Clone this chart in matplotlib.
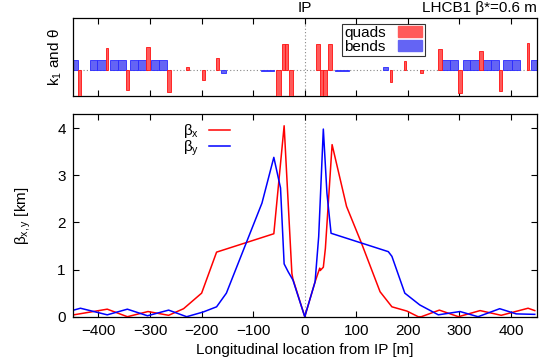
import matplotlib
matplotlib.use("Agg")
import matplotlib.pyplot as plt
from matplotlib.patches import Patch

plt.rcParams['font.family'] = ['Liberation Sans', 'DejaVu Sans']
plt.rcParams['font.size'] = 11
plt.rcParams['mathtext.fontset'] = 'custom'
plt.rcParams['mathtext.rm'] = 'Liberation Sans'
plt.rcParams['mathtext.it'] = 'Liberation Sans'

# Beta functions [km] vs longitudinal position [m]
bx_s = [-448, -383, -344, -304, -264, -235, -200, -171, -60, -40, -25, -23, 0,
        20, 29, 30, 36, 40, 53, 81, 110, 146, 169, 198, 220, 226, 261, 298, 340, 381, 433, 446]
bx_v = [0.04, 0.16, 0.0, 0.11, 0.03, 0.17, 0.5, 1.37, 1.76, 4.05, 0.92, 0.8, 0.0,
        0.74, 1.03, 0.98, 1.05, 1.45, 3.65, 2.34, 1.56, 0.53, 0.21, 0.12, 0.0, 0.0, 0.14, 0.0, 0.13, 0.03, 0.18, 0.13]
by_s = [-448, -435, -383, -344, -305, -264, -229, -197, -171, -152, -83, -60, -47, -40, -32, -23, 0,
        20, 27, 36, 43, 51, 162, 169, 194, 223, 259, 301, 336, 378, 410, 446]
by_v = [0.14, 0.18, 0.04, 0.16, 0.02, 0.14, 0.0, 0.1, 0.21, 0.5, 2.41, 3.38, 2.73, 1.12, 0.95, 0.78, 0.0,
        0.74, 1.7, 3.98, 2.62, 1.77, 1.38, 1.28, 0.5, 0.25, 0.04, 0.11, 0.0, 0.17, 0.06, 0.05]

# Quadrupoles: start, end [m], normalized strength
quad_start = [-439, -386, -347, -307, -268, -230, -200, -172, -55, -45, -38, -31,
              22, 30, 36, 46, 165, 192, 223, 258, 297, 337, 377, 430]
quad_end = [-433, -381, -340, -301, -259, -225, -193, -167, -47, -38, -32, -23,
            30, 36, 43, 53, 170, 197, 229, 266, 304, 345, 383, 435]
quad_k = [-1.1, 0.85, -0.77, 0.88, -0.85, 0.12, -0.38, 0.46, -1.1, 1.0, 1.0, -1.1,
          1.0, -1.1, -1.1, 1.0, -0.45, 0.35, -0.1, 0.8, -0.9, 0.75, -0.8, 1.05]

# Bends: start, end [m], normalized angle
bend_start = [-452, -416, -402, -378, -362, -339, -323, -299, -283, -163, -85,
              58, 151, 266, 281, 306, 321, 346, 362, 385, 401, 438]
bend_end = [-440, -402, -386, -362, -347, -323, -307, -283, -268, -152, -60,
            85, 162, 281, 297, 321, 337, 362, 377, 401, 417, 452]
bend_ang = [0.38, 0.38, 0.38, 0.38, 0.38, 0.38, 0.38, 0.38, 0.38, -0.13, -0.05,
            -0.05, 0.13, 0.38, 0.38, 0.38, 0.38, 0.38, 0.38, 0.38, 0.38, 0.38]

xticks = [-400, -300, -200, -100, 0, 100, 200, 300, 400]
yticks = [0, 1, 2, 3, 4]

fig = plt.figure(figsize=(5.45, 3.63), dpi=100)
ax1 = fig.add_axes([0.1334, 0.736, 0.8516, 0.2136])
ax2 = fig.add_axes([0.1334, 0.1275, 0.8516, 0.5585])

qfill, qedge = '#ff5a5a', '#ff1010'
bfill, bedge = '#6464f4', '#2828ff'

# Top: lattice
ax1.axhline(0, color='#888888', lw=0.8, ls=(0, (1, 2)), zorder=1)
ax1.axvline(0, color='#888888', lw=0.8, ls=(0, (1, 2)), zorder=1)
bw = [e - s for s, e in zip(bend_start, bend_end)]
ax1.bar(bend_start, bend_ang, width=bw, align='edge', color=bfill, edgecolor=bedge, lw=0.6, zorder=2)
qw = [e - s for s, e in zip(quad_start, quad_end)]
ax1.bar(quad_start, quad_k, width=qw, align='edge', color=qfill, edgecolor=qedge, lw=0.6, zorder=3)
ax1.set_xlim(-450, 450)
ax1.set_ylim(-1, 2)
ax1.set_xticks(xticks)
ax1.set_xticklabels([])
ax1.set_yticks([])
ax1.tick_params(axis='x', direction='in', top=True, bottom=True, length=4, width=0.8)
ax1.set_ylabel('k$_1$ and θ')
ax1.yaxis.set_label_coords(-0.019, 0.5)
leg1 = ax1.legend(handles=[Patch(facecolor=qfill, edgecolor=qfill, label='quads'),
                           Patch(facecolor=bfill, edgecolor=bfill, label='bends')],
                  loc='upper left', bbox_to_anchor=(0.58, 0.93), markerfirst=False,
                  frameon=True, fancybox=False, handlelength=1.6, handleheight=0.7,
                  borderpad=0.15, labelspacing=0.0, handletextpad=0.8, borderaxespad=0)
leg1.get_frame().set_edgecolor('black')
leg1.get_frame().set_linewidth(0.8)
ax1.text(0.0, 2.12, 'IP', ha='center', va='bottom')
ax1.text(450, 2.12, 'LHCB1 β*=0.6 m', ha='right', va='bottom')

# Bottom: beta functions
ax2.axvline(0, color='#888888', lw=0.8, ls=(0, (1, 2)), zorder=1)
ax2.plot(bx_s, bx_v, color='#ff0000', lw=1.1, label='β$_\\mathregular{x}$')
ax2.plot(by_s, by_v, color='#0000ff', lw=1.1, label='β$_\\mathregular{y}$')
ax2.set_xlim(-450, 450)
ax2.set_ylim(0, 4.3)
ax2.set_xticks(xticks)
ax2.set_yticks(yticks)
ax2.tick_params(direction='in', top=True, right=True, length=4, width=0.8, pad=5)
ax2.set_xlabel('Longitudinal location from IP [m]')
ax2.set_ylabel('β$_\\mathregular{x,y}$ [km]')
ax2.yaxis.set_label_coords(-0.086, 0.5)
ax2.legend(loc='upper left', bbox_to_anchor=(0.225, 0.99), markerfirst=False, frameon=False,
           handlelength=1.4, labelspacing=-0.1, handletextpad=0.6, borderaxespad=0)

for ax in (ax1, ax2):
    for sp in ax.spines.values():
        sp.set_linewidth(0.9)

fig.savefig('out.png', dpi=100)
